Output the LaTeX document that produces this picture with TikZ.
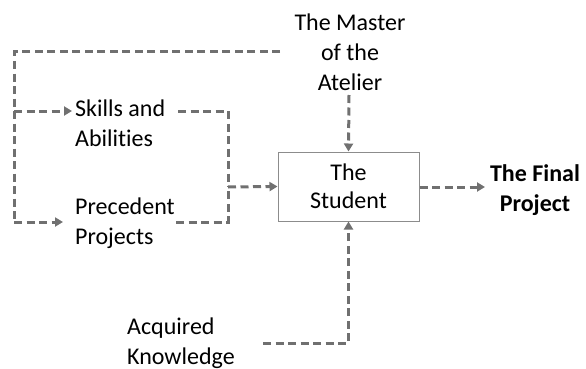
\documentclass[tikz,border=0pt]{standalone}
\usepackage{fontspec}
\setmainfont{Carlito}[Ligatures=NoCommon]
\usetikzlibrary{arrows.meta}
\definecolor{lg}{RGB}{112,112,112}
\definecolor{bx}{RGB}{140,140,140}
\tikzset{
  dl/.style={draw=lg, line width=3pt, dash pattern=on 8pt off 4.5pt},
  dla/.style={dl, -{Triangle[length=8pt,width=9pt]}},
  lbl/.style={inner sep=0pt, font=\fontsize{24}{30}\selectfont},
}
\begin{document}
\begin{tikzpicture}[x=1pt,y=-1pt]
\useasboundingbox (0,0) rectangle (586,369);
\node[lbl, align=center] (master) at (350,52) {The Master\\of the\\Atelier};
\node[lbl, align=left, anchor=west] (skills) at (75,123) {Skills and\\Abilities};
\node[lbl, align=left, anchor=west] (prec) at (75,223) {Precedent\\Projects};
\node[lbl, align=left, anchor=west] (acq) at (127,343) {Acquired\\Knowledge};
\node[draw=bx, line width=1pt, minimum width=141pt, minimum height=69pt, inner sep=0pt, font=\fontsize{24}{28}\selectfont, align=center] (stu) at (348.5,186.5) {The\\Student};
\node[lbl, align=center, font=\fontsize{24}{30}\selectfont\bfseries] (final) at (535,190) {The Final\\Project};
% free ends
\coordinate (mw) at (280,52);
\coordinate (tl) at (14,52);
\coordinate (bl) at (14,222);
\coordinate (ml) at (14,111);
\coordinate (sa) at (72,111);
\coordinate (pa) at (63,222);
\coordinate (se) at (178,111);
\coordinate (pe) at (176,222);
\coordinate (j) at (228,187);
\coordinate (ms) at (349,95);
\coordinate (fa) at (485,187);
\coordinate (ae) at (263,343);
% connectors
\draw[dl] (mw) -- (tl) -- (bl);
\draw[dla] (bl) -- (pa);
\draw[dla] (ml) -- (sa);
\draw[dl] (se) -| (j);
\draw[dl] (pe) -| (j);
\draw[dla] (j) -- (stu.west);
\draw[dla] (ms) -- (stu.north);
\draw[dla] (stu.east |- fa) -- (fa);
\draw[dla] (ae) -| (stu.south);
\end{tikzpicture}
\end{document}
